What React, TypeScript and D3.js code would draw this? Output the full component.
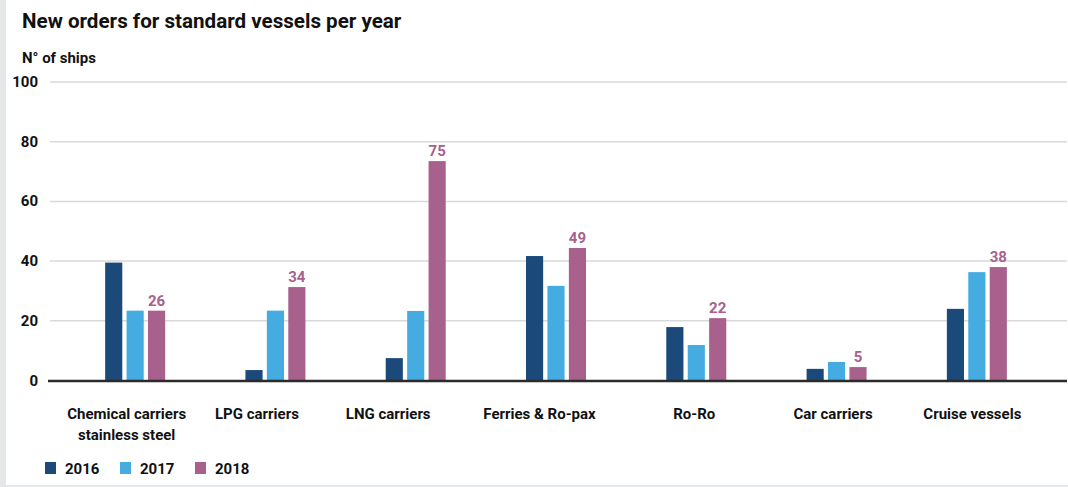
import React from "react";
import * as d3 from "d3";

const categories = [
  ["Chemical carriers", "stainless steel"],
  ["LPG carriers"],
  ["LNG carriers"],
  ["Ferries & Ro-pax"],
  ["Ro-Ro"],
  ["Car carriers"],
  ["Cruise vessels"],
];
const years = ["2016", "2017", "2018"];
const values2016 = [39.5, 3.5, 7.5, 41.7, 17.9, 3.9, 24.0];
const values2017 = [23.4, 23.4, 23.3, 31.7, 11.9, 6.2, 36.3];
const values2018 = [23.4, 31.3, 73.5, 44.4, 20.9, 4.5, 38.0];
const labels2018 = ["26", "34", "75", "49", "22", "5", "38"];
const yTicks = [0, 20, 40, 60, 80, 100];
const colors = ["#1b4a7a", "#45ace2", "#a8608c"];

// layout: horizontal shift of each category label relative to its bar group
const labelShift = [-8.5, -18.5, -27.5, -16.5, -2, -3.5, -4.5];

const W = 1068;
const H = 487;
const FONT = "Roboto, 'Open Sans', sans-serif";

export default function App() {
  const series = [values2016, values2017, values2018];
  const y = d3.scaleLinear().domain([0, 100]).range([380.5, 82]);
  const x0 = d3
    .scaleBand<number>()
    .domain(categories.map((_, i) => i))
    .range([65, 1047])
    .paddingInner(0)
    .paddingOuter(0);
  const groupW = 60;
  const x1 = d3.scaleBand<number>().domain([0, 1, 2]).range([0, groupW]).paddingInner(0.2);

  return (
    <svg
      width={W}
      height={H}
      style={{ position: "absolute", left: 0, top: 0, display: "block" }}
      fontFamily={FONT}
    >
      <rect x={0} y={0} width={W} height={H} fill="#e6e7e9" />
      <rect x={6} y={0} width={W - 6} height={485} fill="#ffffff" />
      <text x={22} y={28} fontSize={20.6} fontWeight={700} fill="#111">
        New orders for standard vessels per year
      </text>
      <text x={22} y={63} fontSize={15} fontWeight={700} fill="#111">
        N° of ships
      </text>
      {yTicks.map((t) => (
        <g key={t}>
          {t !== 0 && (
            <line x1={50} x2={1067} y1={y(t)} y2={y(t)} stroke="#d9d9d9" strokeWidth={1.5} />
          )}
          <text
            x={38}
            y={y(t) + 5}
            textAnchor="end"
            fontSize={15}
            fontWeight={700}
            fill="#111"
          >
            {t}
          </text>
        </g>
      ))}
      {categories.map((c, i) => {
        const cx = (x0(i) as number) + x0.bandwidth() / 2;
        const gx = cx - groupW / 2;
        return (
          <g key={i}>
            {series.map((s, k) => (
              <rect
                key={k}
                x={gx + (x1(k) as number)}
                y={y(s[i])}
                width={x1.bandwidth()}
                height={y(0) - y(s[i])}
                fill={colors[k]}
              />
            ))}
            <text
              x={gx + (x1(2) as number) + x1.bandwidth() / 2}
              y={y(values2018[i]) - 5}
              textAnchor="middle"
              fontSize={15}
              fontWeight={700}
              fill={colors[2]}
            >
              {labels2018[i]}
            </text>
            {c.map((line, li) => (
              <text
                key={li}
                x={cx + labelShift[i]}
                y={419 + li * 21}
                textAnchor="middle"
                fontSize={15}
                fontWeight={700}
                fill="#111"
              >
                {line}
              </text>
            ))}
          </g>
        );
      })}
      <line x1={48} x2={1067} y1={381} y2={381} stroke="#2b2b2b" strokeWidth={2.5} />
      {years.map((yr, k) => (
        <g key={yr} transform={`translate(${45 + k * 75},0)`}>
          <rect x={0} y={462} width={11} height={12} fill={colors[k]} />
          <text x={20} y={474} fontSize={15} fontWeight={700} fill="#111">
            {yr}
          </text>
        </g>
      ))}
    </svg>
  );
}
